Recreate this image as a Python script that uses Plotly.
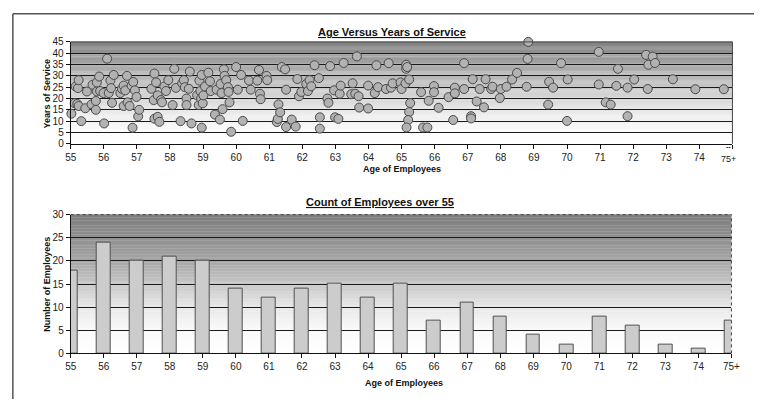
import plotly.graph_objects as go

# Age vs years of service for each employee over 55
ages = [
    55.02, 55.15, 55.12, 55.22, 55.20, 55.24, 55.24, 55.32, 55.44, 55.49,
    55.63, 55.66, 55.76, 55.76, 55.79, 55.79, 55.86, 55.89, 55.99, 56.01,
    56.10, 56.15, 56.20, 56.22, 56.25, 56.30, 56.50, 56.55, 56.60, 56.60,
    56.65, 56.70, 56.72, 56.78, 56.84, 56.87, 56.89, 56.94, 56.99, 57.04,
    57.07, 57.44, 57.53, 57.51, 57.53, 57.58, 57.63, 57.63, 57.68, 57.73,
    57.76, 57.83, 57.88, 57.95, 58.08, 58.13, 58.18, 58.32, 58.37, 58.42,
    58.45, 58.50, 58.50, 58.57, 58.60, 58.65, 58.82, 58.87, 58.89, 58.92,
    58.94, 58.96, 58.96, 58.99, 59.01, 59.06, 59.16, 59.21, 59.23, 59.36,
    59.41, 59.51, 59.53, 59.56, 59.59, 59.63, 59.65, 59.70, 59.75, 59.77,
    59.80, 59.85, 60.00, 60.05, 60.15, 60.20, 60.39, 60.44, 60.64, 60.69,
    60.72, 60.74, 60.92, 60.94, 61.23, 61.26, 61.28, 61.33, 61.38, 61.48,
    61.51, 61.51, 61.68, 61.80, 61.85, 61.90, 61.97, 62.12, 62.17, 62.22,
    62.27, 62.37, 62.50, 62.53, 62.53, 62.76, 62.79, 62.84, 62.96, 62.99,
    63.09, 63.13, 63.16, 63.25, 63.48, 63.52, 63.60, 63.65, 63.70, 63.72,
    63.99, 63.99, 64.19, 64.24, 64.29, 64.61, 64.53, 64.68, 64.73, 64.97,
    65.00, 65.12, 65.23, 65.14, 65.14, 65.17, 65.26, 65.23, 65.20, 65.15,
    65.59, 65.65, 65.78, 65.82, 65.98, 65.98, 66.12, 66.42, 66.56, 66.61,
    66.61, 66.89, 66.89, 67.10, 67.10, 67.15, 67.27, 67.36, 67.49, 67.54,
    67.71, 67.75, 67.97, 68.00, 68.17, 68.34, 68.49, 68.78, 68.81, 68.83,
    69.43, 69.46, 69.58, 69.82, 70.00, 70.02, 70.96, 70.96, 71.17, 71.32,
    71.49, 71.54, 71.83, 71.83, 72.03, 72.39, 72.59, 72.46, 72.66, 72.44,
    73.20, 73.88, 74.74,
]
service = [
    13.3, 25.3, 17.9, 24.6, 17.6, 16.7, 28.1, 10.0, 15.7, 23.1,
    17.4, 26.1, 18.9, 15.0, 23.1, 27.1, 29.7, 23.3, 22.4, 9.0,
    37.6, 22.4, 27.9, 24.6, 18.1, 30.4, 22.4, 24.3, 25.7, 16.7,
    23.6, 30.0, 18.3, 16.7, 25.7, 7.1, 27.3, 23.6, 20.7, 12.1,
    15.0, 24.3, 31.0, 19.3, 11.1, 27.1, 21.4, 11.9, 9.7, 19.3,
    18.3, 25.3, 23.3, 28.1, 17.1, 33.1, 24.7, 10.0, 26.7, 28.1,
    25.0, 20.0, 17.1, 24.3, 31.9, 9.0, 21.4, 17.1, 27.9, 23.3,
    20.0, 30.4, 7.1, 17.9, 21.4, 25.3, 31.4, 27.6, 23.3, 12.9,
    23.9, 10.7, 26.4, 22.4, 15.3, 32.9, 30.0, 28.1, 25.0, 22.9,
    18.3, 5.3, 33.9, 23.9, 30.4, 10.1, 27.9, 23.9, 27.9, 32.6,
    22.1, 19.7, 30.0, 28.1, 9.6, 11.0, 17.4, 13.9, 33.9, 32.9,
    23.9, 7.4, 10.7, 7.6, 28.6, 21.0, 22.9, 26.4, 23.3, 28.1,
    25.4, 34.7, 29.0, 11.7, 6.7, 20.0, 18.1, 34.3, 23.6, 11.7,
    11.0, 22.1, 25.7, 35.7, 21.9, 26.7, 22.1, 38.6, 21.0, 16.0,
    25.7, 15.6, 22.4, 34.7, 25.0, 35.6, 24.2, 24.8, 26.7, 27.1,
    24.2, 26.7, 28.4, 33.1, 34.9, 33.9, 18.0, 14.0, 10.5, 7.2,
    22.8, 7.2, 7.2, 19.0, 25.5, 22.8, 15.9, 20.6, 10.5, 24.8,
    22.3, 35.6, 24.2, 12.2, 11.2, 28.5, 18.7, 24.2, 16.1, 28.5,
    24.2, 25.2, 20.2, 24.2, 25.2, 28.4, 31.3, 25.2, 37.5, 45.0,
    17.3, 27.4, 24.8, 35.6, 10.1, 28.4, 40.6, 26.2, 18.3, 17.3,
    25.6, 33.1, 24.8, 12.2, 28.4, 39.3, 38.5, 34.9, 35.7, 24.2,
    28.5, 24.1, 24.1,
]

# Headcount per age bracket
age_groups = ["55", "56", "57", "58", "59", "60", "61", "62", "63", "64",
              "65", "66", "67", "68", "69", "70", "71", "72", "73", "74", "75+"]
counts = [18, 24, 20, 21, 20, 14, 12, 14, 15, 12,
          15, 7, 11, 8, 4, 2, 8, 6, 2, 1, 7]

scatter_ticks = list(range(55, 76))
scatter_ticktext = [str(v) for v in range(55, 75)] + [""]

W, H = 763, 405
FONT = "Liberation Sans, Arial, sans-serif"


def px_x(p):
    return p / W


def px_y(p):
    return 1 - p / H


def gradient_strips(xa, ya, stops, n=90):
    """Horizontal grey bands that fade from dark (top) to white (bottom)."""
    shapes = []
    for i in range(n):
        f0 = i / n
        f1 = (i + 1) / n
        fm = (f0 + f1) / 2
        g = stops[-1][1]
        for (a, ga), (b, gb) in zip(stops[:-1], stops[1:]):
            if a <= fm <= b:
                g = ga + (gb - ga) * (fm - a) / (b - a)
                break
        g = int(round(g))
        shapes.append(dict(
            type="rect", xref=f"{xa} domain", yref=f"{ya} domain",
            x0=0, x1=1, y0=f0, y1=f1 + 0.002,
            fillcolor=f"rgb({g},{g},{g})", line=dict(width=0), layer="below",
        ))
    return shapes


fig = go.Figure()

fig.add_trace(go.Scatter(
    x=ages, y=service, mode="markers", xaxis="x", yaxis="y",
    marker=dict(size=9, color="#b2b2b2", line=dict(color="#4a4a4a", width=1)),
    cliponaxis=False, showlegend=False, hoverinfo="x+y",
))

fig.add_trace(go.Bar(
    x=age_groups, y=counts, xaxis="x2", yaxis="y2", width=0.42,
    marker=dict(color="#cccccc", line=dict(color="#505050", width=1)),
    showlegend=False,
))

tickfont = dict(family=FONT, size=10, color="#222")
axis_common = dict(
    showline=True, linecolor="#111", linewidth=1, mirror=False,
    ticks="outside", ticklen=4, tickcolor="#111", tickfont=tickfont,
    zeroline=False,
)

shapes = []
# scatter background: darkest at 45, white below 5
shapes += gradient_strips("x", "y", [(0.0, 255), (0.11, 253), (0.33, 232),
                                     (0.55, 200), (0.78, 165), (1.0, 128)])
# bar background
shapes += gradient_strips("x2", "y2", [(0.0, 255), (0.17, 250), (0.33, 232),
                                       (0.5, 200), (0.67, 165), (0.83, 145),
                                       (1.0, 125)])
# plot area outlines (top and right)
for xa, ya, dash in (("x", "y", "solid"), ("x2", "y2", "dot")):
    shapes.append(dict(type="line", xref=f"{xa} domain", yref=f"{ya} domain",
                       x0=0, x1=1, y0=1, y1=1, layer="above",
                       line=dict(color="#444", width=1, dash=dash)))
    shapes.append(dict(type="line", xref=f"{xa} domain", yref=f"{ya} domain",
                       x0=1, x1=1, y0=0, y1=1, layer="above",
                       line=dict(color="#444", width=1, dash=dash)))
# outer frame around the page
shapes.append(dict(type="line", xref="paper", yref="paper",
                   x0=px_x(7), x1=1, y0=px_y(8), y1=px_y(8),
                   line=dict(color="#555", width=1.5)))
shapes.append(dict(type="line", xref="paper", yref="paper",
                   x0=px_x(7), x1=px_x(7), y0=0, y1=px_y(8),
                   line=dict(color="#555", width=1.5)))

title_font = dict(family=FONT, size=11, color="#111")
label_font = dict(family=FONT, size=9, color="#111")


def note(text, x, y, font, angle=0):
    return dict(text=text, x=px_x(x), y=px_y(y), xref="paper", yref="paper",
                xanchor="center", yanchor="middle", showarrow=False,
                font=font, textangle=angle)


annotations = [
    note("<b><u>Age Versus Years of Service</u></b>", 394, 27, title_font),
    note("<b><u>Count of Employees over 55</u></b>", 382, 202, title_font),
    note("<b>Years of Service</b>", 42, 90, label_font, -90),
    note("<b>Age of Employees</b>", 404, 168, label_font),
    note("<b>Number of Employees</b>", 42, 287, label_font, -90),
    note("<b>Age of Employees</b>", 406, 388, label_font),
    # last scatter tick label sits a little lower, with a dash mark above
    note("<b>--</b>", 737, 145, dict(family=FONT, size=7, color="#222")),
    note("75+", 737, 158, dict(family=FONT, size=9, color="#222")),
]

fig.update_layout(
    width=W, height=H, autosize=False,
    margin=dict(l=0, r=0, t=0, b=0),
    paper_bgcolor="white", plot_bgcolor="white",
    font=dict(family=FONT),
    bargap=0,
    xaxis=dict(domain=[px_x(66), px_x(741)], anchor="y", range=[55, 75],
               tickvals=scatter_ticks, ticktext=scatter_ticktext,
               showgrid=False, **axis_common),
    yaxis=dict(domain=[px_y(142), px_y(37)], anchor="x", range=[0, 45],
               dtick=5, showgrid=True, gridcolor="#1a1a1a", gridwidth=1,
               **axis_common),
    xaxis2=dict(domain=[px_x(66), px_x(740)], anchor="y2", type="category",
                range=[0, 20], categoryorder="array", categoryarray=age_groups,
                showgrid=False, **axis_common),
    yaxis2=dict(domain=[px_y(358), px_y(215)], anchor="x2", range=[0, 30],
                dtick=5, showgrid=True, gridcolor="#1a1a1a", gridwidth=1,
                **axis_common),
    shapes=shapes,
    annotations=annotations,
)

fig.write_html("out.html")
